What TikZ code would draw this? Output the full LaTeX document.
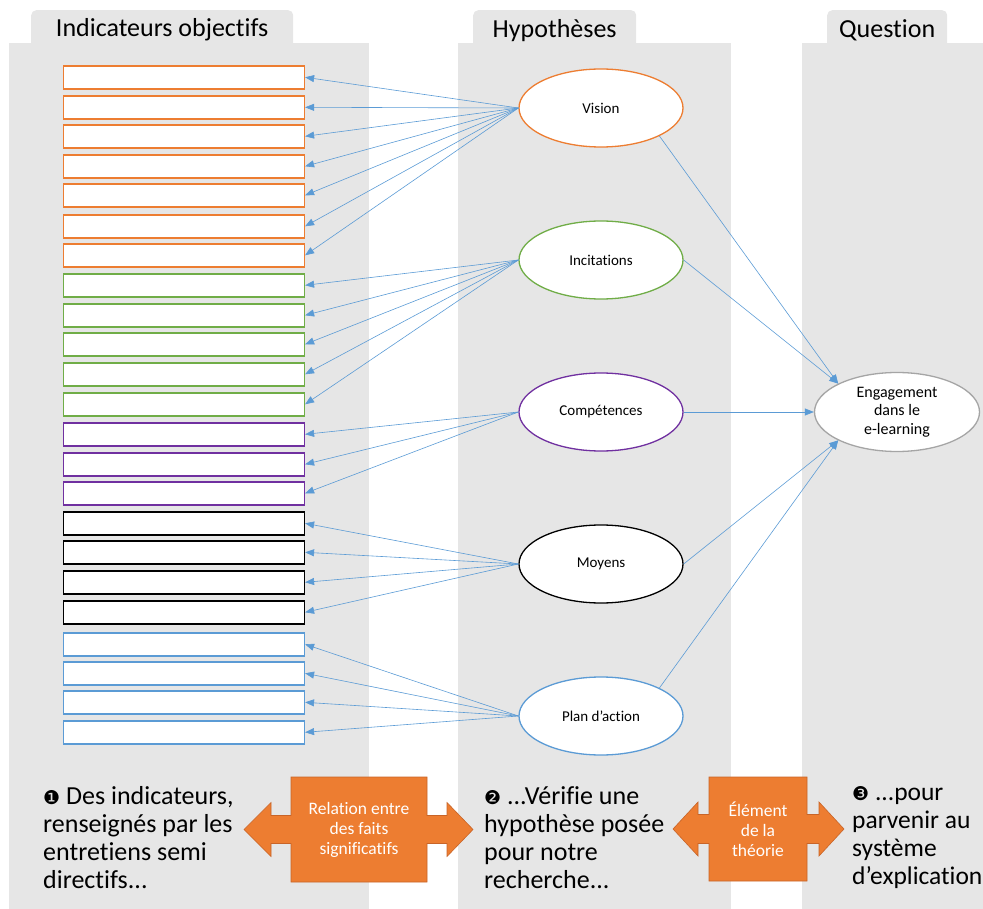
\documentclass[tikz,border=0pt]{standalone}
\usepackage{fontspec}
\setmainfont{Carlito}[Ligatures=NoCommon]
\newfontfamily\dingfont{DejaVu Sans}
\usetikzlibrary{arrows.meta,positioning,shapes.geometric}
\definecolor{panelgray}{RGB}{230,230,230}
\definecolor{orng}{RGB}{237,125,49}
\definecolor{orngdark}{RGB}{200,100,40}
\definecolor{grn}{RGB}{112,173,71}
\definecolor{purp}{RGB}{112,48,160}
\definecolor{blu}{RGB}{91,155,213}
\definecolor{enggray}{RGB}{165,165,165}

\begin{document}
\begin{tikzpicture}[
  x=1pt, y=-1pt,
  tab/.style={fill=panelgray, rounded corners=5pt, inner sep=0pt,
              minimum height=40pt, anchor=north west, font=\fontsize{26}{30}\selectfont},
  ind/.style={draw, fill=white, line width=1.6pt, minimum width=241pt,
              minimum height=23pt, inner sep=0pt, anchor=north west},
  hyp/.style={ellipse, draw, fill=white, line width=1.3pt, inner sep=0pt,
              minimum width=164pt, minimum height=78pt, align=center,
              font=\fontsize{15}{18.5}\selectfont},
  a/.style={-{Triangle[length=9pt,width=7pt]}, draw=blu, line width=0.6pt},
  txt/.style={align=left, anchor=north west, inner sep=0pt,
              font=\fontsize{26}{28}\selectfont},
  num/.style={font=\dingfont\fontsize{20}{28}\selectfont},
  fl/.style={fill=orng, draw=orngdark, line width=0.6pt},
  fltxt/.style={align=center, text=white, inner sep=0pt,
                font=\fontsize{17.5}{20}\selectfont}]
\useasboundingbox (0,0) rectangle (983,909);

% ---------------- the three columns --------------------------------------
\node[tab, minimum width=262pt] (tind) at (31,10) {Indicateurs objectifs};
\node[tab, minimum width=163pt] (thyp) at (473,10) {Hypothèses};
\node[tab, minimum width=120pt] (tque) at (827,10) {Question};
\fill[panelgray] (9,43) rectangle (369,909);
\fill[panelgray] (458,43) rectangle (731,909);
\fill[panelgray] (802,43) rectangle (983,909);

% ---------------- indicator boxes ----------------------------------------
\foreach \i/\y/\c in {1/65/orng, 2/95/orng, 3/124/orng, 4/154/orng, 5/183/orng,
                      6/214/orng, 7/243/orng, 8/273/grn, 9/303/grn, 10/332/grn,
                      11/362/grn, 12/392/grn, 13/422/purp, 14/452/purp, 15/481/purp,
                      16/511/black, 17/540/black, 18/570/black, 19/600/black,
                      20/632/blu, 21/661/blu, 22/690/blu, 23/720/blu} {
  \node[ind, draw=\c] (ind\i) at (62.5,\y) {};
}

% ---------------- hypotheses ---------------------------------------------
\node[hyp, draw=orng] (vis) at (601,108) {Vision};
\node[hyp, draw=grn] (inc) at (601,260) {Incitations};
\node[hyp, draw=purp] (comp) at (601,412) {Compétences};
\node[hyp, draw=black] (moy) at (601,564) {Moyens};
\node[hyp, draw=blu] (plan) at (601,716) {Plan d’action};

\foreach \i in {1,...,7} { \draw[a] (vis.west) -- (ind\i.east); }
\foreach \i in {8,...,12} { \draw[a] (inc.west) -- (ind\i.east); }
\foreach \i in {13,...,15} { \draw[a] (comp.west) -- (ind\i.east); }
\foreach \i in {16,...,19} { \draw[a] (moy.west) -- (ind\i.east); }
\foreach \i in {20,...,23} { \draw[a] (plan.west) -- (ind\i.east); }

% ---------------- the question --------------------------------------------
\node[hyp, draw=enggray, minimum width=165pt, minimum height=79pt,
      font=\fontsize{16}{18.5}\selectfont] (eng) at (897,412)
      {Engagement\\dans le\\e-learning};

\draw[a] (vis.south east) -- (eng.north west);
\draw[a] (inc.east) -- (eng.north west);
\draw[a] (comp.east) -- (eng.west);
\draw[a] (moy.east) -- (eng.south west);
\draw[a] (plan.north east) -- (eng.south west);

% ---------------- bottom texts -------------------------------------------
\node[txt] (b1) at (43,786)
      {{\dingfont\fontsize{19}{28}\selectfont ❶} Des indicateurs,\\renseignés par les\\entretiens semi\\directifs...};
\node[txt] (b2) at (484,786)
      {{\dingfont\fontsize{19}{28}\selectfont ❷} ...Vérifie une\\hypothèse posée\\pour notre\\recherche...};
\node[txt, font=\fontsize{25.5}{28}\selectfont] (b3) at (852,786)
      {{\dingfont\fontsize{19}{28}\selectfont ❸} ...pour\\parvenir au\\système\\d’explication};

% ---------------- double arrows ------------------------------------------
\draw[fl] (244,829.5) -- (271,802.5) -- (271,815.5) -- (291,815.5) -- (291,777)
  -- (427,777) -- (427,815.5) -- (447,815.5) -- (447,802.5) -- (473,829.5)
  -- (447,856.5) -- (447,843.5) -- (427,843.5) -- (427,882) -- (291,882)
  -- (291,843.5) -- (271,843.5) -- (271,856.5) -- cycle;
\node[fltxt] (rel) at (359,829.5) {Relation entre\\des faits\\significatifs};

\draw[fl] (673,829) -- (698,802) -- (698,814.5) -- (709,814.5) -- (709,777)
  -- (807,777) -- (807,814.5) -- (819,814.5) -- (819,802) -- (844,829)
  -- (819,856) -- (819,843.5) -- (807,843.5) -- (807,881) -- (709,881)
  -- (709,843.5) -- (698,843.5) -- (698,856) -- cycle;
\node[fltxt] (elt) at (758,829) {Élément\\de la\\théorie};
\end{tikzpicture}
\end{document}
